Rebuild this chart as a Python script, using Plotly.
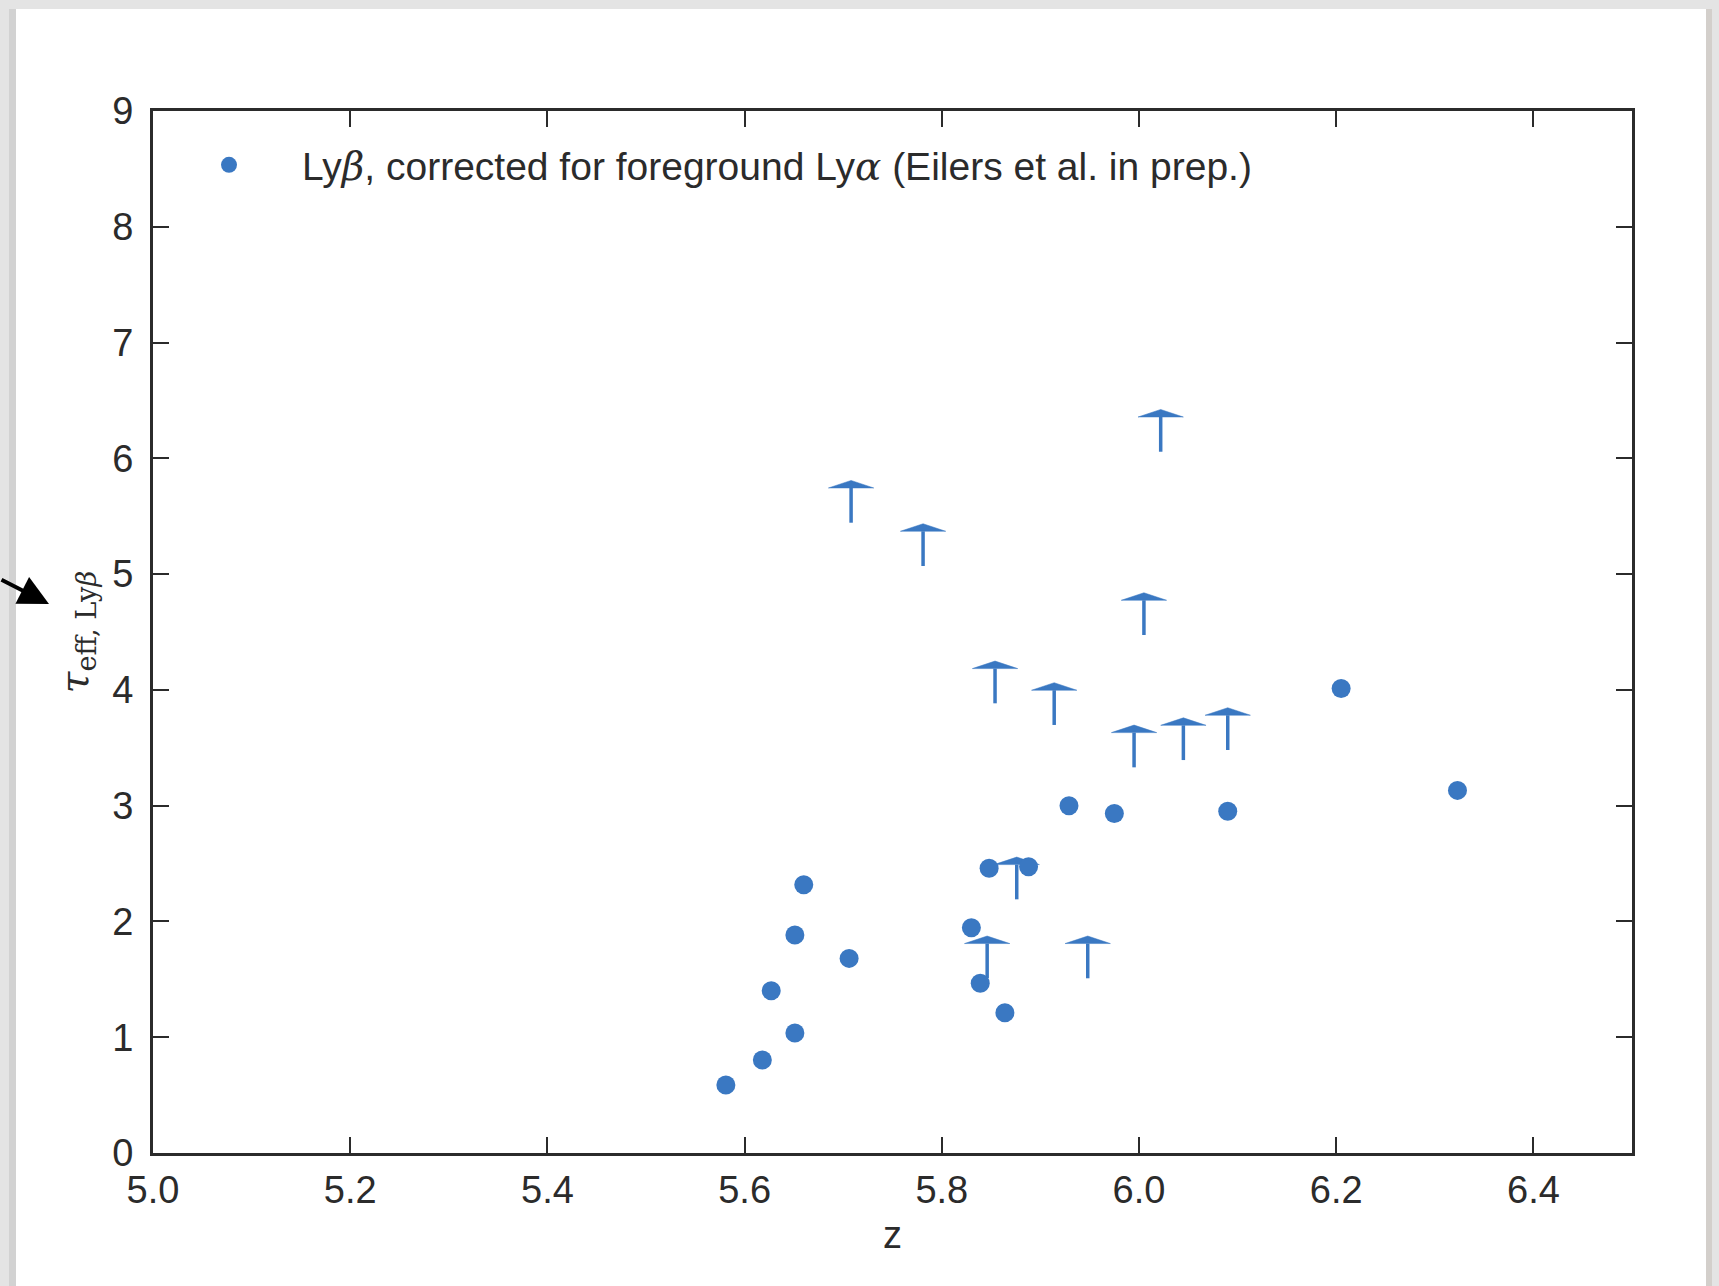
import plotly.graph_objects as go

# ---------------- data ----------------
det_z = [5.581, 5.618, 5.627, 5.651, 5.651, 5.660, 5.706, 5.830, 5.839, 5.848,
         5.864, 5.888, 5.929, 5.975, 6.090, 6.205, 6.323]
det_tau = [0.587, 0.803, 1.402, 1.036, 1.883, 2.317, 1.681, 1.946, 1.466, 2.459,
           1.212, 2.473, 2.999, 2.932, 2.951, 4.012, 3.132]

lim_z = [5.708, 5.781, 5.846, 5.854, 5.876, 5.914, 5.948, 5.995, 6.005, 6.022, 6.045, 6.090]
lim_tau = [5.444, 5.070, 1.509, 3.884, 2.191, 3.697, 1.509, 3.331, 4.474, 6.057, 3.394, 3.481]

x_ticks = [5.0, 5.2, 5.4, 5.6, 5.8, 6.0, 6.2, 6.4]
x_ticklabels = ["5.0", "5.2", "5.4", "5.6", "5.8", "6.0", "6.2", "6.4"]
y_ticks = [0, 1, 2, 3, 4, 5, 6, 7, 8, 9]

SERIF = "DejaVu Serif"
legend_label = (f"Ly<span style='font-family:{SERIF}'><i>β</i></span>, corrected for foreground "
                f"Ly<span style='font-family:{SERIF}'><i>α</i></span> (Eilers et al. in prep.)")

# ---------------- style ----------------
W, H = 1719, 1286
ML, MR, MT, MB = 153, 87, 111, 133
PW, PH = W - ML - MR, H - MT - MB
BLUE = "#3A78C2"
DARK = "#2b2b2b"
FONT = "Liberation Sans"

STEM = 0.30     # length of limit bar (y units)
HEAD_H = 0.065  # caret height (y units)
HEAD_HW = 0.023 # caret half width (x units)


def px_x(p):
    return (p - ML) / PW


def px_y(p):
    return (H - MB - p) / PH


# limit stems
sx, sy = [], []
for z, t in zip(lim_z, lim_tau):
    sx += [z, z, None]
    sy += [t, t + STEM, None]

# limit carets
hx, hy = [], []
for z, t in zip(lim_z, lim_tau):
    b = t + STEM
    hx += [z - HEAD_HW, z, z + HEAD_HW, z - HEAD_HW, None]
    hy += [b, b + HEAD_H, b, b, None]

fig = go.Figure()
fig.add_trace(go.Scatter(x=sx, y=sy, mode="lines", line=dict(color=BLUE, width=3.5),
                         showlegend=False, hoverinfo="skip"))
fig.add_trace(go.Scatter(x=hx, y=hy, mode="lines", fill="toself", fillcolor=BLUE,
                         line=dict(color=BLUE, width=0.5), showlegend=False, hoverinfo="skip"))
fig.add_trace(go.Scatter(x=det_z, y=det_tau, mode="markers", name=legend_label,
                         marker=dict(color=BLUE, size=19, line=dict(width=0))))

axis_common = dict(
    showgrid=False, zeroline=False, showline=True, linecolor=DARK, linewidth=3,
    mirror="ticks", ticks="inside", ticklen=16, tickwidth=2, tickcolor=DARK,
    tickfont=dict(family=FONT, size=38, color=DARK),
)

fig.update_layout(
    width=W, height=H,
    margin=dict(l=ML, r=MR, t=MT, b=MB),
    paper_bgcolor="#e4e4e4",
    plot_bgcolor="white",
    font=dict(family=FONT, color=DARK),
    xaxis=dict(range=[5.0, 6.5], tickvals=x_ticks, ticktext=x_ticklabels,
               ticklabelstandoff=1,
               title=dict(text="z", font=dict(family=FONT, size=38, color=DARK), standoff=12),
               **axis_common),
    yaxis=dict(range=[0, 9], tickvals=y_ticks, ticklabelstandoff=9,
               title=dict(text="<i>τ</i><sub>eff, Ly<i>β</i></sub>",
                          font=dict(family=SERIF, size=39, color=DARK), standoff=12),
               **axis_common),
    legend=dict(x=px_x(156), y=px_y(133), xanchor="left", yanchor="top",
                bgcolor="rgba(0,0,0,0)", borderwidth=0, itemwidth=136,
                font=dict(family=FONT, size=39, color=DARK)),
    showlegend=True,
    shapes=[
        # page background (white sheet with shadowed edges)
        dict(type="rect", xref="paper", yref="paper", x0=px_x(16), x1=px_x(1706),
             y0=px_y(H + 20), y1=px_y(9), fillcolor="white", line=dict(width=0), layer="below"),
        dict(type="rect", xref="paper", yref="paper", x0=px_x(9), x1=px_x(16),
             y0=px_y(H + 20), y1=px_y(9), fillcolor="#d2d2d2", line=dict(width=0), layer="below"),
        dict(type="rect", xref="paper", yref="paper", x0=px_x(1706), x1=px_x(1712),
             y0=px_y(H + 20), y1=px_y(9), fillcolor="#d3cfcb", line=dict(width=0), layer="below"),
    ],
    annotations=[
        dict(xref="paper", yref="paper", x=px_x(49), y=px_y(604), ax=-49, ay=-25,
             text="", showarrow=True, arrowhead=2, arrowsize=1.5, arrowwidth=4,
             arrowcolor="black"),
    ],
)

fig.write_html("out.html")
